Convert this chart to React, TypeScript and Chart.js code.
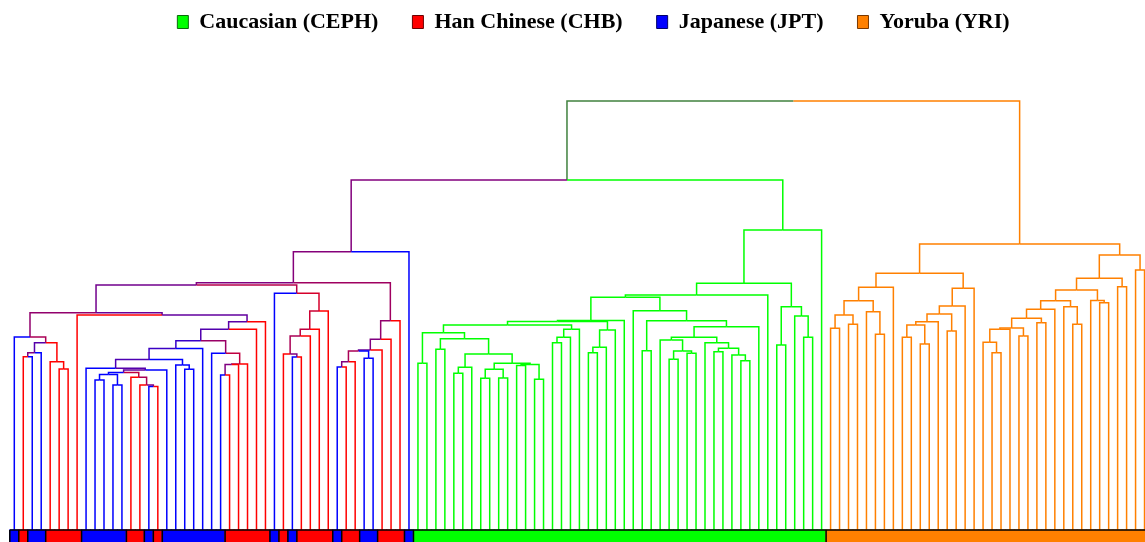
import React, { useEffect, useRef } from "react";
import { Chart, registerables } from "chart.js";

Chart.register(...registerables);

// ---- legend / groups ----
const groupKeys = ["CEPH", "CHB", "JPT", "YRI"];
const groupNames = ["Caucasian (CEPH)", "Han Chinese (CHB)", "Japanese (JPT)", "Yoruba (YRI)"];
const groupColors = ["#00ff00", "#ff0000", "#0000ff", "#ff8000"];
const groupBorders = ["#0b6b0b", "#6b0000", "#00006b", "#7a3800"];

// ---- leaf order (left to right) ----
const asianLeafGroups = [
  "JPT", "CHB", "JPT", "JPT", "CHB", "CHB", "CHB", "CHB", "JPT", "JPT",
  "JPT", "JPT", "JPT", "CHB", "CHB", "JPT", "CHB", "JPT", "JPT", "JPT",
  "JPT", "JPT", "JPT", "JPT", "CHB", "CHB", "CHB", "CHB", "CHB", "JPT",
  "CHB", "JPT", "CHB", "CHB", "CHB", "CHB", "JPT", "CHB", "CHB", "JPT",
  "JPT", "CHB", "CHB", "CHB", "JPT",
];
const cephLeafGroups = [
  "CEPH", "CEPH", "CEPH", "CEPH", "CEPH", "CEPH", "CEPH", "CEPH", "CEPH", "CEPH",
  "CEPH", "CEPH", "CEPH", "CEPH", "CEPH", "CEPH", "CEPH", "CEPH", "CEPH", "CEPH",
  "CEPH", "CEPH", "CEPH", "CEPH", "CEPH", "CEPH", "CEPH", "CEPH", "CEPH", "CEPH",
  "CEPH", "CEPH", "CEPH", "CEPH", "CEPH", "CEPH", "CEPH", "CEPH", "CEPH", "CEPH",
  "CEPH", "CEPH", "CEPH", "CEPH", "CEPH", "CEPH",
];
const yriLeafGroups = [
  "YRI", "YRI", "YRI", "YRI", "YRI", "YRI", "YRI", "YRI", "YRI", "YRI",
  "YRI", "YRI", "YRI", "YRI", "YRI", "YRI", "YRI", "YRI", "YRI", "YRI",
  "YRI", "YRI", "YRI", "YRI", "YRI", "YRI", "YRI", "YRI", "YRI", "YRI",
  "YRI", "YRI", "YRI", "YRI", "YRI", "YRI",
];

// ---- merges: numbers are leaves, "mK" is merge K; heights in distance units ----
const mergeLeft: (number | string)[] = [
  1, "m0", 5, 4, "m1", 0, 9, 11, "m6", 15,
  14, 13, "m8", "m12", 8, 19, 18, "m14", "m17", 23,
  "m19", "m20", 22, "m18", "m23", "m24", 7, "m5", 31, 30,
  "m29", "m30", "m31", 29, "m27", 36, "m35", 39, "m36", "m38",
  "m39", "m40", "m34", "m42",
  45, 47, 49, "m46", 52, 54, "m48", 56, 58, "m51",
  "m50", "m47", "m45", "m44", 60, "m58", "m59", "m57", 64, "m62",
  "m63", "m61", "m65", 70, 73, 75, "m68", 72, 78, 81,
  80, "m72", 77, "m71", "m77", "m67", 69, "m66", "m81", 85,
  88, 87, "m83", "m82", "m87",
  91, 93, "m89", 96, 95, "m91", "m94", 99, 101, "m96",
  "m98", 104, "m99", "m101", "m102", "m95", 109, 108, "m106", 112,
  "m107", 114, "m109", "m111", 118, 117, "m112", 121, 120, "m115",
  123, "m118", 125, "m120", "m104",
  "m43", "m124",
];
const mergeRight: (number | string)[] = [
  2, 3, 6, "m2", "m3", "m4", 10, 12, "m7", 16,
  "m9", "m10", "m11", 17, "m13", 20, "m15", "m16", 21, 24,
  25, 26, "m21", "m22", 27, 28, "m25", "m26", 32, "m28",
  33, 34, 35, "m32", "m33", 37, 38, 40, "m37", 41,
  42, 43, "m41", 44,
  46, 48, 50, 51, 53, 55, "m49", 57, 59, "m52",
  "m53", "m54", "m55", "m56", 61, 62, 63, "m60", 65, 66,
  67, "m64", 68, 71, 74, 76, "m69", "m70", 79, 82,
  "m73", "m74", "m75", "m76", 83, "m78", "m79", "m80", 84, 86,
  89, "m84", "m85", "m86", 90,
  92, 94, "m90", 97, "m92", "m93", 98, 100, 102, "m97",
  103, 105, "m100", 106, 107, "m103", 110, "m105", 111, 113,
  "m108", 115, "m110", 116, 119, "m113", "m114", 122, "m116", "m117",
  124, "m119", 126, "m121", "m122",
  "m88", "m123",
];
const mergeHeight: number[] = [
  173.3, 177.3, 161, 168.3, 187.3, 193, 150, 145, 155.5, 143.5,
  145, 152.7, 157.5, 160, 161.7, 160.7, 165, 170.5, 181.5, 155,
  165.5, 166, 176.7, 189.3, 200.7, 208.3, 215, 217.3, 173, 176,
  194, 200.7, 219, 236.7, 245, 163, 168.3, 171.7, 179, 180,
  190.7, 209.3, 247.3, 278.3,
  166.7, 180.7, 156.7, 162.7, 151.7, 152, 160.7, 164.5, 150.7, 165.5,
  166.7, 176, 191.2, 197.3, 187.3, 192.7, 200.7, 205, 177.3, 182.7,
  200, 208.5, 209.5, 179.3, 170.7, 176.7, 179, 190, 178.3, 169.3,
  175, 181.7, 187.3, 192.7, 203.3, 209.3, 219.3, 232.7, 235, 185,
  192.7, 214, 223.3, 246.7, 300,
  201.7, 205.7, 215, 195.7, 218.3, 229.3, 242.7, 192.7, 186, 205,
  208.3, 199, 216, 224, 241.7, 256.7, 177.3, 187.7, 200.7, 194,
  202, 207.3, 211.7, 220.7, 205.7, 223.3, 229.3, 227.3, 229.5, 240,
  243.3, 251.7, 260, 275, 286,
  350, 429,
];

const leafGroups = [...asianLeafGroups, ...cephLeafGroups, ...yriLeafGroups];

function hexToRgb(h: string) {
  const v = parseInt(h.slice(1), 16);
  return [(v >> 16) & 255, (v >> 8) & 255, v & 255];
}

function buildTree() {
  const nx: number[] = [];
  const nh: number[] = [];
  const nrgb: number[][] = [];
  const nn: number[] = [];
  const leafRgb = leafGroups.map((g) => hexToRgb(groupColors[groupKeys.indexOf(g)]));
  const info = (r: number | string) => {
    if (typeof r === "number") return { x: r, h: 0, rgb: leafRgb[r], n: 1 };
    const k = parseInt(r.slice(1), 10);
    return { x: nx[k], h: nh[k], rgb: nrgb[k], n: nn[k] };
  };
  const segs: { pts: { x: number; y: number }[]; color: string }[] = [];
  for (let k = 0; k < mergeHeight.length; k++) {
    const a = info(mergeLeft[k]);
    const b = info(mergeRight[k]);
    const h = mergeHeight[k];
    const mx = (a.x + b.x) / 2;
    const n = a.n + b.n;
    const rgb = [0, 1, 2].map((c) => (a.rgb[c] * a.n + b.rgb[c] * b.n) / n);
    nx[k] = mx;
    nh[k] = h;
    nrgb[k] = rgb;
    nn[k] = n;
    for (const c of [a, b]) {
      segs.push({
        pts: [
          { x: c.x, y: c.h },
          { x: c.x, y: h },
          { x: mx, y: h },
        ],
        color: `rgb(${Math.round(c.rgb[0])},${Math.round(c.rgb[1])},${Math.round(c.rgb[2])})`,
      });
    }
  }
  return segs;
}

export default function App() {
  const ref = useRef<HTMLCanvasElement | null>(null);
  useEffect(() => {
    document.body.style.margin = "0";
    const canvas = ref.current;
    if (!canvas) return;
    const segs = buildTree();
    const lineSets: any[] = segs.map((s) => ({
      type: "line",
      data: s.pts,
      borderColor: s.color,
      borderWidth: 1.5,
      pointRadius: 0,
      fill: false,
      tension: 0,
      clip: false,
      order: 3,
    }));
    const barSet: any = {
      type: "bar",
      data: leafGroups.map((g, i) => ({ x: i, y: [-13, 0] })),
      backgroundColor: leafGroups.map((g) => groupColors[groupKeys.indexOf(g)]),
      borderWidth: 0,
      inflateAmount: 0.6,
      barPercentage: 1,
      categoryPercentage: 1,
      clip: false,
      order: 2,
    };
    // black outline of the colour strip: top edge and separators between population runs
    const outlineSets: any[] = [
      {
        type: "line",
        data: [
          { x: -0.5, y: 0 },
          { x: leafGroups.length - 0.5, y: 0 },
        ],
        borderColor: "#000000",
        borderWidth: 1.5,
        pointRadius: 0,
        fill: false,
        clip: false,
        order: 1,
      },
    ];
    leafGroups.forEach((g, i) => {
      if (i === 0 || g !== leafGroups[i - 1]) {
        outlineSets.push({
          type: "line",
          data: [
            { x: i - 0.5, y: -13 },
            { x: i - 0.5, y: 0 },
          ],
          borderColor: "#000000",
          borderWidth: 1.5,
          pointRadius: 0,
          fill: false,
          clip: false,
          order: 1,
        });
      }
    });
    const chart = new Chart(canvas, {
      type: "line",
      data: { datasets: [...lineSets, barSet, ...outlineSets] },
      options: {
        animation: false,
        responsive: false,
        devicePixelRatio: 1,
        events: [],
        layout: { padding: { left: 14.3, right: 0.3, top: -23, bottom: 0 } },
        plugins: {
          tooltip: { enabled: false },
          legend: {
            display: true,
            position: "top",
            align: "center",
            onClick: () => {},
            labels: {
              boxWidth: 11,
              boxHeight: 13,
              padding: 34,
              color: "#000000",
              font: { family: "'Liberation Serif', 'Times New Roman', serif", size: 22, weight: "bold" },
              generateLabels: () =>
                groupKeys.map((k, i) => ({
                  text: groupNames[i],
                  fillStyle: groupColors[i],
                  strokeStyle: groupBorders[i],
                  lineWidth: 1,
                  hidden: false,
                  datasetIndex: i,
                })),
            },
          },
        },
        scales: {
          x: { type: "linear", display: false, min: 0, max: 129.14, offset: false },
          y: { type: "linear", display: false, min: -12, max: 487 },
        },
      } as any,
    });
    return () => chart.destroy();
  }, []);
  return (
    <div style={{ width: 1145, height: 542, overflow: "hidden", position: "relative", background: "#ffffff" }}>
      <canvas ref={ref} width={1173} height={542} style={{ display: "block" }} />
    </div>
  );
}
